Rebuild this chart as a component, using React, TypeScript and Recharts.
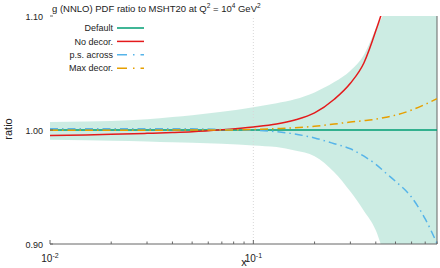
import { Area, ComposedChart, Line, ReferenceLine, XAxis, YAxis } from "recharts";

// x grid (log scale)
const xValues = [0.01, 0.015, 0.02, 0.03, 0.04, 0.05, 0.07, 0.1, 0.13, 0.16, 0.2, 0.25, 0.3, 0.35, 0.4, 0.45, 0.5, 0.6, 0.7, 0.8];

// MSHT20 uncertainty band
const bandLow = [0.9915, 0.991, 0.9905, 0.99, 0.9893, 0.9888, 0.988, 0.9865, 0.985, 0.982, 0.977, 0.963, 0.946, 0.929, 0.912, 0.885, 0.86, 0.8, 0.75, 0.7];
const bandHigh = [1.007, 1.0075, 1.008, 1.0095, 1.0115, 1.013, 1.016, 1.02, 1.0235, 1.027, 1.033, 1.042, 1.052, 1.066, 1.089, 1.11, 1.16, 1.3, 1.5, 1.8];

const defaultRatio = [1, 1, 1, 1, 1, 1, 1, 1, 1, 1, 1, 1, 1, 1, 1, 1, 1, 1, 1, 1];
const noDecor = [0.9952, 0.9957, 0.9962, 0.9971, 0.9978, 0.9985, 1.0002, 1.0026, 1.0052, 1.0088, 1.015, 1.027, 1.041, 1.059, 1.087, 1.117, 1.16, 1.27, 1.42, 1.6];
const psAcross = [1.0012, 1.0012, 1.0012, 1.0011, 1.0011, 1.001, 1.0005, 0.9998, 0.9985, 0.9965, 0.993, 0.988, 0.9835, 0.977, 0.97, 0.962, 0.955, 0.941, 0.922, 0.9005];
const maxDecor = [0.9998, 0.9998, 0.9998, 0.9998, 0.9999, 0.9999, 1.0, 1.0004, 1.0012, 1.002, 1.0033, 1.0052, 1.007, 1.0082, 1.0095, 1.0112, 1.013, 1.0175, 1.0225, 1.0275];

const xTicks = [0.01, 0.02, 0.03, 0.04, 0.05, 0.06, 0.07, 0.08, 0.09, 0.1, 0.2, 0.3, 0.4, 0.5, 0.6, 0.7, 0.8];
const yTicks = [0.9, 1.0, 1.1];

const series = [
  { key: "def", name: "Default", color: "#009e73", dash: undefined as string | undefined },
  { key: "nodec", name: "No decor.", color: "#e41a1c", dash: undefined },
  { key: "ps", name: "p.s. across", color: "#56b4e9", dash: "8 4 1.5 4" },
  { key: "maxd", name: "Max decor.", color: "#e69f00", dash: "8 4 1.5 4" },
];

const data = xValues.map((x, i) => ({
  x,
  band: [bandLow[i], bandHigh[i]],
  def: defaultRatio[i],
  nodec: noDecor[i],
  ps: psAcross[i],
  maxd: maxDecor[i],
}));

const FONT = "Liberation Sans, Arial, Helvetica, sans-serif";
const AXIS = "#666";

function XTick(props: any) {
  const { x, y, payload, top } = props;
  const lg = Math.log10(payload.value);
  const major = Math.abs(lg - Math.round(lg)) < 1e-6;
  const len = major ? 4 : 2.5;
  const dir = top ? 1 : -1;
  return (
    <g>
      <line x1={x} x2={x} y1={y} y2={y + dir * len} stroke={AXIS} />
      {!top && major && (
        <text x={x} y={y + 18} textAnchor="middle" fontSize={10} fontFamily={FONT} fill="#222">
          10
          <tspan dy={-4} fontSize={7}>
            {Math.round(lg)}
          </tspan>
        </text>
      )}
    </g>
  );
}

function YTick(props: any) {
  const { x, y, payload } = props;
  return (
    <g>
      <line x1={x} x2={x + 3} y1={y} y2={y} stroke={AXIS} />
      <text x={x - 7} y={y + 3.5} textAnchor="end" fontSize={9} fontFamily={FONT} fill="#222">
        {payload.value.toFixed(2)}
      </text>
    </g>
  );
}

function App() {
  return (
    <div style={{ position: "absolute", left: 0, top: 0, width: 440, height: 268, background: "#fff" }}>
      <ComposedChart width={440} height={268} data={data} margin={{ top: 16, right: 3, bottom: 0, left: 0 }}>
        <XAxis
          dataKey="x"
          type="number"
          scale="log"
          domain={[0.01, 0.8]}
          allowDataOverflow
          ticks={xTicks}
          interval={0}
          height={24}
          tickSize={0}
          tickMargin={0}
          tickLine={false}
          axisLine={{ stroke: AXIS }}
          tick={(p: any) => <XTick {...p} />}
        />
        <XAxis
          xAxisId="top"
          orientation="top"
          dataKey="x"
          type="number"
          scale="log"
          domain={[0.01, 0.8]}
          allowDataOverflow
          ticks={xTicks}
          interval={0}
          height={0}
          tickSize={0}
          tickMargin={0}
          tickLine={false}
          axisLine={{ stroke: AXIS }}
          tick={(p: any) => <XTick {...p} top />}
        />
        <YAxis
          type="number"
          domain={[0.9, 1.1]}
          allowDataOverflow
          ticks={yTicks}
          interval={0}
          width={50}
          tickSize={0}
          tickMargin={0}
          tickLine={false}
          axisLine={false}
          tick={(p: any) => <YTick {...p} />}
        />
        <ReferenceLine x={0.1} stroke="#d8d8d8" strokeDasharray="1 2" />
        <ReferenceLine x={0.8} stroke={AXIS} />
        <Area
          dataKey="band"
          type="monotone"
          stroke="none"
          fill="#009e73"
          fillOpacity={0.2}
          isAnimationActive={false}
          legendType="none"
        />
        {series.map((s) => (
          <Line
            key={s.key}
            dataKey={s.key}
            name={s.name}
            type="monotone"
            stroke={s.color}
            strokeWidth={1.5}
            strokeDasharray={s.dash}
            dot={false}
            isAnimationActive={false}
          />
        ))}
      </ComposedChart>
      <svg
        width={440}
        height={268}
        style={{ position: "absolute", left: 0, top: 0, pointerEvents: "none" }}
        fontFamily={FONT}
      >
        <text x={52} y={11.5} fontSize={9.5} fill="#222">
          g (NNLO) PDF ratio to MSHT20 at Q<tspan dy={-3.5} fontSize={6.5}>2</tspan>
          <tspan dy={3.5}> = 10</tspan>
          <tspan dy={-3.5} fontSize={6.5}>4</tspan>
          <tspan dy={3.5}> GeV</tspan>
          <tspan dy={-3.5} fontSize={6.5}>2</tspan>
        </text>
        <text x={12} y={129} fontSize={11} fill="#222" textAnchor="middle" transform="rotate(-90 12 129)">
          ratio
        </text>
        <text x={244} y={266} fontSize={11} fill="#222" textAnchor="middle">
          x
        </text>
        {series.map((s, i) => {
          const y = 28 + i * 13.4;
          return (
            <g key={s.key}>
              <text x={113} y={y + 3.2} fontSize={9} textAnchor="end" fill="#222">
                {s.name}
              </text>
              <line x1={117} x2={144} y1={y} y2={y} stroke={s.color} strokeWidth={1.5} strokeDasharray={s.dash ? "10 6 1.5 6" : undefined} />
            </g>
          );
        })}
      </svg>
    </div>
  );
}

export default App;
